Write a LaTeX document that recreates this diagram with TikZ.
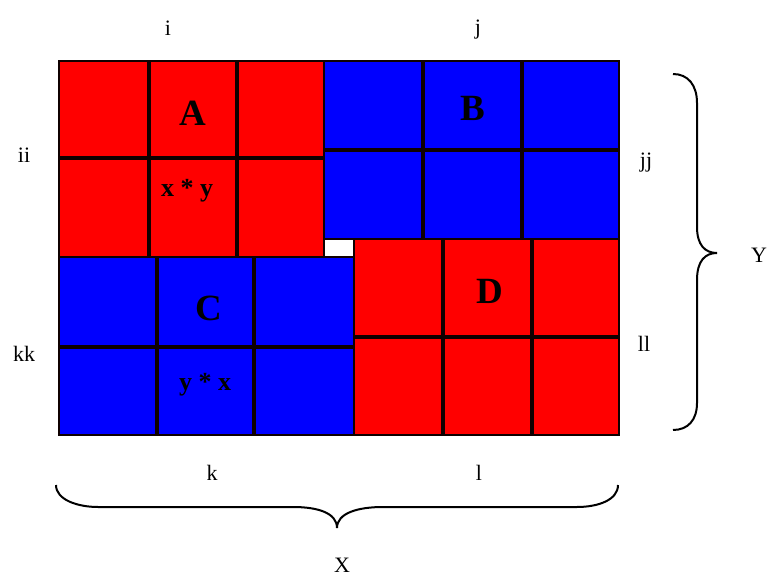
\documentclass[tikz,border=0pt]{standalone}
\usepackage{fontspec}
\setmainfont{Liberation Serif}
\definecolor{cred}{RGB}{255,0,0}
\definecolor{cblue}{RGB}{0,0,255}
\definecolor{gridc}{RGB}{15,0,0}
\tikzset{
  lab/.style={font=\fontsize{22}{22}\selectfont, anchor=base, inner sep=0pt},
  big/.style={font=\fontsize{37}{37}\selectfont\bfseries, anchor=base, inner sep=0pt},
  prod/.style={font=\fontsize{26}{26}\selectfont\bfseries, anchor=base, inner sep=0pt},
  gridline/.style={draw=gridc, line width=3.4pt},
  blockedge/.style={draw=gridc, line width=1.2pt},
  bracestyle/.style={draw=black, line width=2pt}
}
\begin{document}
\begin{tikzpicture}[x=1pt,y=-1pt]
\useasboundingbox (0,0) rectangle (768,577);
% block A
\fill[cred] (59,61) rectangle (324,257);
\draw[gridline] (149,61) -- (149,257) (237,61) -- (237,257) (59,158) -- (324,158);
% block B
\fill[cblue] (324,61) rectangle (619,239);
\draw[gridline] (423,61) -- (423,239) (522,61) -- (522,239) (324,150) -- (619,150);
% block C
\fill[cblue] (59,257) rectangle (354,435);
\draw[gridline] (157,257) -- (157,435) (254,257) -- (254,435) (59,347) -- (354,347);
% block D
\fill[cred] (354,239) rectangle (619,435);
\draw[gridline] (443,239) -- (443,435) (532,239) -- (532,435) (354,337) -- (619,337);
% white gap
\fill[white] (325,239) rectangle (353,256);
% outer edges
\draw[blockedge] (59,61) rectangle (324,257);
\draw[blockedge] (324,61) rectangle (619,239);
\draw[blockedge] (59,257) rectangle (354,435);
\draw[blockedge] (354,239) rectangle (619,435);
% block labels
\node[big] (A) at (193,126) {A};
\node[prod] (xy) at (187,197) {x * y};
\node[big] (B) at (473,121) {B};
\node[big] (C) at (209,320) {C};
\node[prod] (yx) at (205,390) {y * x};
\node[big] (D) at (490,303) {D};
% side labels
\node[lab] (i) at (168,36) {i};
\node[lab] (j) at (478,35) {j};
\node[lab] (ii) at (24,163) {ii};
\node[lab] (kk) at (24,361) {kk};
\node[lab] (jj) at (646,168) {jj};
\node[lab] (ll) at (644,351) {ll};
\node[lab] (Y) at (759,262) {Y};
\node[lab] (k) at (212,480) {k};
\node[lab] (l) at (479,480) {l};
\node[lab] (X) at (342,572) {X};
% right brace
\draw[bracestyle] (673,74) .. controls (688,74) and (697,85) .. (697,103)
  -- (697,227) .. controls (697,245) and (705,253) .. (717,253)
  .. controls (705,253) and (697,261) .. (697,280)
  -- (697,403) .. controls (697,420) and (688,430) .. (673,430);
% bottom brace
\draw[bracestyle] (56,485) .. controls (56,500) and (78,507) .. (98,507)
  -- (293,507) .. controls (318,507) and (337,513) .. (337,528)
  .. controls (337,513) and (358,507) .. (383,507)
  -- (577,507) .. controls (598,507) and (618,500) .. (618,485);
\end{tikzpicture}
\end{document}
